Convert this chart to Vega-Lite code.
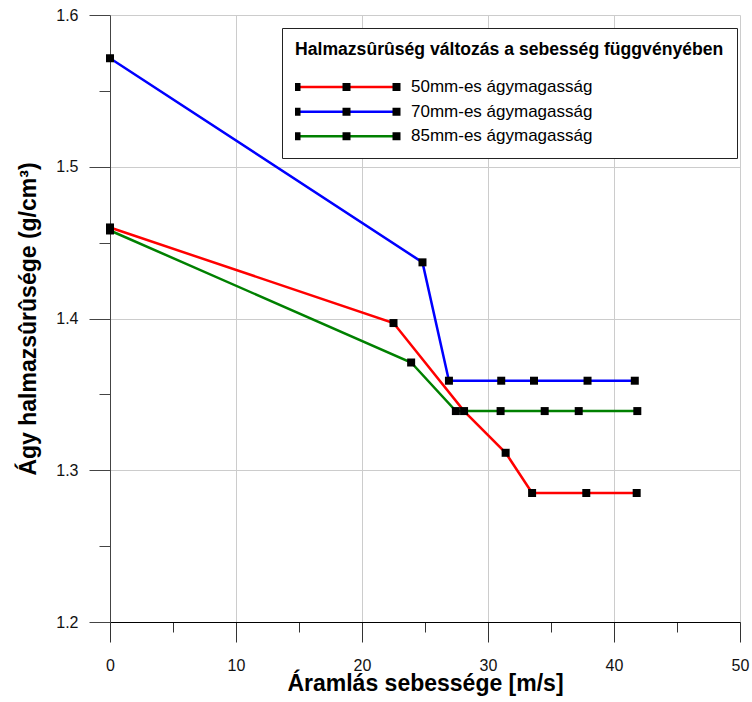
{
  "$schema": "https://vega.github.io/schema/vega-lite/v6.json",
  "width": 630,
  "height": 607,
  "autosize": "none",
  "padding": {"left": 110, "top": 15, "right": 12, "bottom": 80},
  "background": "white",
  "config": {"view": {"stroke": null}, "font": "Liberation Sans"},
  "data": {
    "values": [
      {"series": "50mm-es ágymagasság", "speed": 0, "density": 1.46},
      {"series": "50mm-es ágymagasság", "speed": 22.5, "density": 1.397},
      {"series": "50mm-es ágymagasság", "speed": 28.1, "density": 1.339},
      {"series": "50mm-es ágymagasság", "speed": 31.4, "density": 1.3115},
      {"series": "50mm-es ágymagasság", "speed": 33.5, "density": 1.285},
      {"series": "50mm-es ágymagasság", "speed": 37.8, "density": 1.285},
      {"series": "50mm-es ágymagasság", "speed": 41.8, "density": 1.285},
      {"series": "70mm-es ágymagasság", "speed": 0, "density": 1.5715},
      {"series": "70mm-es ágymagasság", "speed": 24.8, "density": 1.437},
      {"series": "70mm-es ágymagasság", "speed": 26.9, "density": 1.359},
      {"series": "70mm-es ágymagasság", "speed": 31.05, "density": 1.359},
      {"series": "70mm-es ágymagasság", "speed": 33.65, "density": 1.359},
      {"series": "70mm-es ágymagasság", "speed": 37.9, "density": 1.359},
      {"series": "70mm-es ágymagasság", "speed": 41.65, "density": 1.359},
      {"series": "85mm-es ágymagasság", "speed": 0, "density": 1.458},
      {"series": "85mm-es ágymagasság", "speed": 23.9, "density": 1.371},
      {"series": "85mm-es ágymagasság", "speed": 27.45, "density": 1.339},
      {"series": "85mm-es ágymagasság", "speed": 31.0, "density": 1.339},
      {"series": "85mm-es ágymagasság", "speed": 34.5, "density": 1.339},
      {"series": "85mm-es ágymagasság", "speed": 37.2, "density": 1.339},
      {"series": "85mm-es ágymagasság", "speed": 41.85, "density": 1.339}
    ]
  },
  "layer": [
    {
      "mark": {"type": "line", "strokeWidth": 2.5},
      "encoding": {
        "x": {
          "field": "speed",
          "type": "quantitative",
          "scale": {"domain": [0, 50], "nice": false, "zero": false},
          "axis": {
            "values": [0, 5, 10, 15, 20, 25, 30, 35, 40, 45, 50],
            "title": "Áramlás sebessége [m/s]",
            "titleFont": "Liberation Sans",
            "titleFontSize": 23,
            "titleFontWeight": "bold",
            "titleColor": "black",
            "titlePadding": -1,
            "labelFont": "Liberation Sans",
            "labelFontSize": 16,
            "labelColor": "#111111",
            "labelPadding": 15,
            "labelFlush": false,
            "labelOverlap": false,
            "labelExpr": "datum.value % 10 === 0 ? datum.label : ''",
            "tickSize": {"condition": {"test": "datum.value % 10 === 0", "value": 20}, "value": 10},
            "tickColor": "#333333",
            "tickWidth": 1,
            "domainColor": "black",
            "domainWidth": 1,
            "grid": true,
            "gridColor": "#cccccc",
            "gridWidth": 1,
            "gridOpacity": {"condition": {"test": "datum.value % 10 === 0", "value": 1}, "value": 0}
          }
        },
        "y": {
          "field": "density",
          "type": "quantitative",
          "scale": {"domain": [1.2, 1.6], "nice": false, "zero": false},
          "axis": {
            "values": [1.2, 1.25, 1.3, 1.35, 1.4, 1.45, 1.5, 1.55, 1.6],
            "format": ".1f",
            "title": "Ágy halmazsûrûsége (g/cm³)",
            "titleFont": "Liberation Sans",
            "titleFontSize": 23,
            "titleFontWeight": "bold",
            "titleColor": "black",
            "titlePadding": 15,
            "labelFont": "Liberation Sans",
            "labelFontSize": 16,
            "labelColor": "#111111",
            "labelPadding": 11,
            "labelFlush": false,
            "labelOverlap": false,
            "labelExpr": "abs(datum.value * 10 - round(datum.value * 10)) < 0.001 ? datum.label : ''",
            "tickSize": {"condition": {"test": "abs(datum.value * 10 - round(datum.value * 10)) < 0.001", "value": 21}, "value": 11},
            "tickColor": "#444444",
            "tickWidth": 1,
            "domainColor": "#444444",
            "domainWidth": 1,
            "grid": true,
            "gridColor": "#cccccc",
            "gridWidth": 1,
            "gridOpacity": {"condition": {"test": "abs(datum.value * 10 - round(datum.value * 10)) < 0.001", "value": 1}, "value": 0}
          }
        },
        "color": {
          "field": "series",
          "type": "nominal",
          "scale": {
            "domain": ["50mm-es ágymagasság", "70mm-es ágymagasság", "85mm-es ágymagasság"],
            "range": ["#ff0000", "#0000ff", "#008000"]
          },
          "legend": {
            "title": "Halmazsûrûség változás a sebesség függvényében",
            "orient": "none",
            "legendX": 172,
            "legendY": 13,
            "padding": 13,
            "strokeColor": "#222222",
            "fillColor": "white",
            "titleFont": "Liberation Sans",
            "titleFontSize": 17.6,
            "titleFontWeight": "bold",
            "titleColor": "black",
            "titlePadding": 20,
            "titleLimit": 1000,
            "labelFont": "Liberation Sans",
            "labelFontSize": 17,
            "labelColor": "black",
            "labelOffset": 13,
            "labelLimit": 600,
            "rowPadding": 6.6,
            "clipHeight": 17,
            "symbolType": "M-1,0H1",
            "symbolSize": 10000,
            "symbolStrokeWidth": 2.5,
            "encode": {
              "symbols": {"update": {"fill": {"value": "transparent"}, "strokeWidth": {"value": 2.5}}}
            }
          }
        }
      }
    },
    {
      "mark": {"type": "point", "shape": "square", "filled": true, "color": "black", "size": 64},
      "encoding": {
        "x": {"field": "speed", "type": "quantitative"},
        "y": {"field": "density", "type": "quantitative"},
        "opacity": {
          "field": "series",
          "type": "ordinal",
          "scale": {"range": [1, 1, 1]},
          "legend": {
            "title": "Halmazsûrûség változás a sebesség függvényében",
            "orient": "none",
            "legendX": 172,
            "legendY": 13,
            "padding": 13,
            "titleFont": "Liberation Sans",
            "titleFontSize": 17.6,
            "titleFontWeight": "bold",
            "titleColor": "transparent",
            "titlePadding": 20,
            "titleLimit": 1000,
            "labelFont": "Liberation Sans",
            "labelFontSize": 17,
            "labelColor": "transparent",
            "labelOffset": 13,
            "labelLimit": 600,
            "rowPadding": 6.6,
            "clipHeight": 17,
            "symbolType": "M-1.08,-0.08H-0.92V0.08H-1.08ZM-0.08,-0.08H0.08V0.08H-0.08ZM0.92,-0.08H1.08V0.08H0.92Z",
            "symbolSize": 10000,
            "symbolStrokeWidth": 2.5,
            "symbolFillColor": "black",
            "symbolStrokeColor": "transparent",
            "encode": {
              "symbols": {
                "update": {
                  "fill": {"value": "black"},
                  "stroke": {"value": "transparent"},
                  "strokeWidth": {"value": 2.5}
                }
              }
            }
          }
        }
      }
    }
  ]
}
